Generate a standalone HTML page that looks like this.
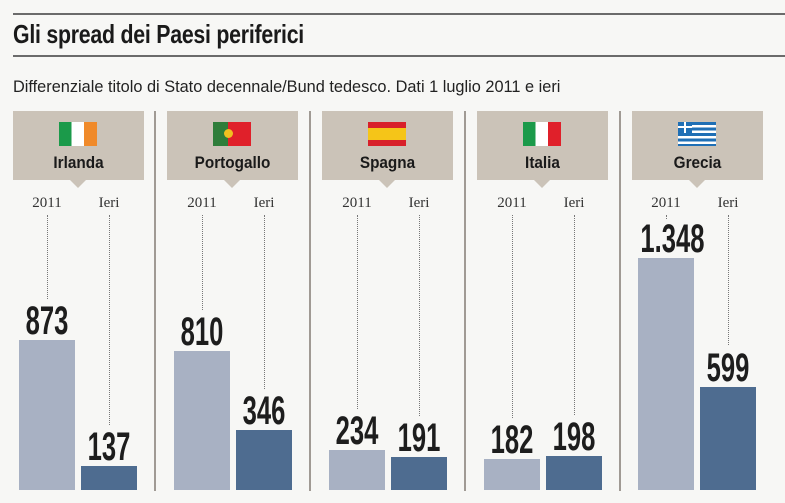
<!DOCTYPE html>
<html><head><meta charset="utf-8"><style>
body{margin:0;width:785px;height:503px;background:#f7f7f5;position:relative;overflow:hidden;font-family:"Liberation Sans",sans-serif;color:#1a1a1a}
.a{position:absolute}
.hl{position:absolute;left:13px;width:772px;height:2px;background:#6b6b6b}
.box{position:absolute;top:111px;width:131px;height:69px;background:#cbc3b8}
.tri{position:absolute;top:180px;width:0;height:0;border-left:8px solid transparent;border-right:8px solid transparent;border-top:8px solid #cbc3b8}
.name{position:absolute;top:153px;width:131px;text-align:center;font-weight:bold;font-size:17px;transform:scaleX(0.9)}
.lab{position:absolute;top:195px;width:56px;text-align:center;font-size:15px;font-family:"Liberation Serif",serif;color:#333}
.dot{position:absolute;top:215px;width:0;border-left:1px dotted #777}
.num{position:absolute;width:80px;text-align:center;font-weight:bold;font-size:40px;line-height:38px;transform:scaleX(0.64);color:#1d1d1d}
.lb{position:absolute;width:56px;background:#a8b1c3;bottom:13px}
.db{position:absolute;width:56px;background:#4e6c90;bottom:13px}
.div{position:absolute;top:111px;height:380px;width:2px;background:#a09a94}
.flag{position:absolute;top:122px;width:38px;height:24px}
</style></head><body>
<div class="hl" style="top:13px"></div>
<div class="a" style="left:13px;top:19px;font-size:26px;font-weight:bold;transform:scaleX(0.82);transform-origin:left;letter-spacing:-0.3px">Gli spread dei Paesi periferici</div>
<div class="hl" style="top:55px"></div>
<div class="a" style="left:13px;top:77px;font-size:17px;color:#222;transform:scaleX(0.96);transform-origin:left">Differenziale titolo di Stato decennale/Bund tedesco. Dati 1 luglio 2011 e ieri</div>

<div class="div" style="left:154px"></div>
<div class="div" style="left:309px"></div>
<div class="div" style="left:464px"></div>
<div class="div" style="left:619px"></div>

<div class="box" style="left:13px"></div><div class="tri" style="left:70px"></div>
<div class="flag" style="left:59px;background:linear-gradient(90deg,#1b9a4a 0 33%,#fff 33% 66%,#f08a2a 66%)"></div>
<div class="name" style="left:13px">Irlanda</div>
<div class="lab" style="left:19px">2011</div><div class="lab" style="left:81px">Ieri</div>
<div class="dot" style="left:47px;height:84px"></div><div class="dot" style="left:109px;height:210px"></div>
<div class="num" style="left:7px;top:302px">873</div><div class="num" style="left:69px;top:428px">137</div>
<div class="lb" style="left:19px;top:340px"></div><div class="db" style="left:81px;top:466px"></div>

<div class="box" style="left:167px"></div><div class="tri" style="left:224px"></div>
<div class="flag" style="left:213px;background:linear-gradient(90deg,#2e7d3a 0 40%,#e0202a 40%)"></div>
<div class="a" style="left:224px;top:129px;width:9px;height:9px;border-radius:50%;background:#f0c020"></div>
<div class="name" style="left:167px">Portogallo</div>
<div class="lab" style="left:174px">2011</div><div class="lab" style="left:236px">Ieri</div>
<div class="dot" style="left:202px;height:95px"></div><div class="dot" style="left:264px;height:174px"></div>
<div class="num" style="left:162px;top:313px">810</div><div class="num" style="left:224px;top:392px">346</div>
<div class="lb" style="left:174px;top:351px"></div><div class="db" style="left:236px;top:430px"></div>

<div class="box" style="left:322px"></div><div class="tri" style="left:379px"></div>
<div class="flag" style="left:368px;background:linear-gradient(180deg,#d8202a 0 25%,#f5c518 25% 75%,#d8202a 75%)"></div>
<div class="name" style="left:322px">Spagna</div>
<div class="lab" style="left:329px">2011</div><div class="lab" style="left:391px">Ieri</div>
<div class="dot" style="left:357px;height:194px"></div><div class="dot" style="left:419px;height:201px"></div>
<div class="num" style="left:317px;top:412px">234</div><div class="num" style="left:379px;top:419px">191</div>
<div class="lb" style="left:329px;top:450px"></div><div class="db" style="left:391px;top:457px"></div>

<div class="box" style="left:477px"></div><div class="tri" style="left:534px"></div>
<div class="flag" style="left:523px;background:linear-gradient(90deg,#1b9a4a 0 33%,#fff 33% 66%,#e0202a 66%)"></div>
<div class="name" style="left:477px">Italia</div>
<div class="lab" style="left:484px">2011</div><div class="lab" style="left:546px">Ieri</div>
<div class="dot" style="left:512px;height:203px"></div><div class="dot" style="left:574px;height:200px"></div>
<div class="num" style="left:472px;top:421px">182</div><div class="num" style="left:534px;top:418px">198</div>
<div class="lb" style="left:484px;top:459px"></div><div class="db" style="left:546px;top:456px"></div>

<div class="box" style="left:632px"></div><div class="tri" style="left:689px"></div>
<div class="flag" style="left:678px;background:repeating-linear-gradient(180deg,#1f6fb5 0 3px,#fff 3px 5.5px)"></div>
<div class="a" style="left:678px;top:122px;width:14px;height:11px;background:#1f6fb5"></div>
<div class="a" style="left:684px;top:122px;width:2px;height:11px;background:#fff"></div>
<div class="a" style="left:678px;top:126px;width:14px;height:2px;background:#fff"></div>
<div class="name" style="left:632px">Grecia</div>
<div class="lab" style="left:638px">2011</div><div class="lab" style="left:700px">Ieri</div>
<div class="dot" style="left:666px;height:4px"></div><div class="dot" style="left:728px;height:130px"></div>
<div class="num" style="left:626px;top:220px">1.348</div><div class="num" style="left:688px;top:349px">599</div>
<div class="lb" style="left:638px;top:258px"></div><div class="db" style="left:700px;top:387px"></div>
</body></html>
